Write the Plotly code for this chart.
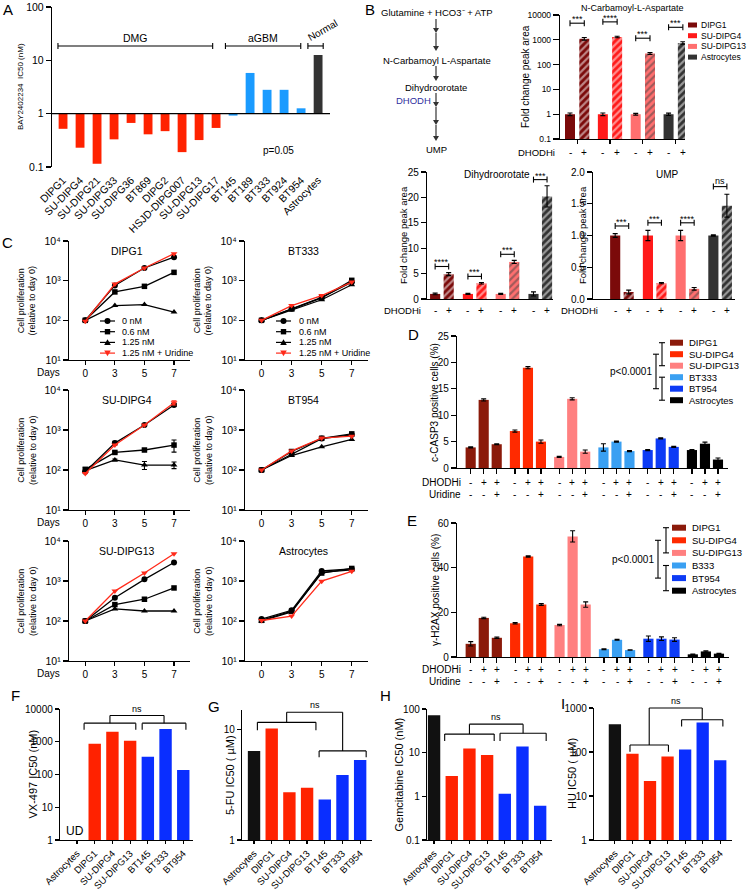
import math
import plotly.graph_objects as go

# ---------------- DATA ----------------
# Panel A
A_lines = ["DIPG1", "SU-DIPG4", "SU-DIPG21", "SU-DIPG33", "SU-DIPG36", "BT869", "DIPG2",
           "HSJD-DIPG007", "SU-DIPG13", "SU-DIPG17", "BT145", "BT189", "BT333", "BT924",
           "BT954", "Astrocytes"]
A_group = ["DMG"] * 10 + ["aGBM"] * 5 + ["Normal"]
A_ic50 = [0.52, 0.23, 0.115, 0.33, 0.67, 0.41, 0.47, 0.19, 0.32, 0.54,
          0.92, 5.8, 2.8, 2.8, 1.26, 12.6]

# Panel B
B_cells = ["DIPG1", "SU-DIPG4", "SU-DIPG13", "Astrocytes"]
B_treat = ["-", "+"]
B_ncla_ctrl = [1.0, 1.0, 1.0, 1.0]
B_ncla_ctrl_err = [0.12, 0.12, 0.08, 0.1]
B_ncla_dhodhi = [1100, 1300, 280, 750]
B_ncla_dhodhi_err = [130, 90, 25, 90]
B_ncla_sig = ["***", "****", "***", "***"]
B_dho_ctrl = [1.0, 1.0, 1.0, 1.0]
B_dho_ctrl_err = [0.15, 0.1, 0.1, 0.4]
B_dho_dhodhi = [4.9, 3.1, 7.3, 20.2]
B_dho_dhodhi_err = [0.3, 0.15, 0.3, 2.1]
B_dho_sig = ["****", "***", "***", "***"]
B_ump_ctrl = [1.0, 1.0, 1.0, 1.0]
B_ump_ctrl_err = [0.03, 0.08, 0.08, 0.01]
B_ump_dhodhi = [0.11, 0.25, 0.16, 1.47]
B_ump_dhodhi_err = [0.03, 0.01, 0.02, 0.18]
B_ump_sig = ["***", "***", "****", "ns"]

# Panel C  (rows: 0 nM, 0.6 nM, 1.25 nM, 1.25 nM + Uridine; columns: days)
C_days = ["0", "3", "5", "7"]
C_doses = ["0 nM", "0.6 nM", "1.25 nM", "1.25 nM + Uridine"]
C_yticks = ["10¹", "10²", "10³", "10⁴"]
C_DIPG1 = [[100, 760, 2090, 3900], [100, 520, 720, 1620], [100, 235, 250, 162], [95, 820, 2090, 4800]]
C_BT333 = [[100, 195, 380, 910], [100, 195, 370, 1020], [100, 185, 330, 790], [100, 235, 420, 920]]
C_SUDIPG4 = [[90, 470, 1330, 4200], [104, 275, 316, 420], [96, 178, 133, 133], [82, 420, 1330, 4800]]
C_SUDIPG4_err = [[0, 50, 60, 300], [10, 20, 20, 140], [5, 10, 30, 25], [0, 0, 0, 600]]
C_BT954 = [[100, 250, 610, 760], [100, 290, 620, 800], [100, 230, 380, 580], [100, 300, 630, 700]]
C_SUDIPG13 = [[100, 380, 1100, 2900], [100, 257, 350, 670], [100, 200, 178, 178], [100, 560, 1580, 4800]]
C_ASTRO = [[112, 185, 1780, 2000], [104, 176, 1580, 2060], [100, 168, 1650, 1900], [103, 133, 990, 1750]]

# Panels D / E
D_lines = ["DIPG1", "SU-DIPG4", "SU-DIPG13", "BT333", "BT954", "Astrocytes"]
E_lines = ["DIPG1", "SU-DIPG4", "SU-DIPG13", "B333", "BT954", "Astrocytes"]
DE_dhodhi = ["-", "+", "+"]
DE_uridine = ["-", "-", "+"]
D_casp3 = [[3.9, 12.9, 4.5], [7.0, 19.0, 5.0], [2.1, 13.1, 3.1], [3.9, 5.0, 3.2], [3.4, 5.6, 4.0], [3.4, 4.6, 1.6]]
D_casp3_err = [[0.1, 0.2, 0.1], [0.2, 0.2, 0.3], [0.1, 0.2, 0.3], [0.7, 0.1, 0.1], [0.1, 0.1, 0.1], [0.1, 0.3, 0.3]]
E_h2ax = [[5.9, 17.5, 8.6], [15.1, 45.0, 23.5], [14.3, 54.0, 23.5], [3.5, 7.7, 3.1], [8.2, 8.2, 7.8], [1.2, 2.5, 1.5]]
E_h2ax_err = [[1.0, 0.3, 0.3], [0.3, 0.3, 0.4], [0.3, 2.5, 1.2], [0.2, 0.2, 0.1], [1.2, 0.8, 0.8], [0.1, 0.3, 0.2]]

# Panels F - I
FI_lines = ["Astrocytes", "DIPG1", "SU-DIPG4", "SU-DIPG13", "BT145", "BT333", "BT954"]
F_vx497 = [None, 870, 2030, 1070, 350, 2450, 138]
G_5fu = [6.4, 10.2, 2.7, 2.97, 2.33, 3.87, 5.28]
H_gem = [71.5, 2.94, 12.5, 8.8, 1.14, 13.9, 0.61]
I_hu = [428, 91, 21.8, 79, 114, 468, 65]

# ---------------- STYLE ----------------
A_COLORS = {"DMG": "#FF2200", "aGBM": "#1A9BFF", "Normal": "#333333"}
B_COLORS = ["#7B0A0A", "#FF1A1A", "#FF6F6F", "#333333"]
DE_COLORS = ["#8B1A0A", "#FF2A00", "#FF8080", "#3AA0F2", "#0D3BF5", "#000000"]
FI_COLORS = ["#111111", "#FF2200", "#FF2200", "#FF2200", "#0A2EFF", "#0A2EFF", "#0A2EFF"]
C_SYMBOLS = ["circle", "square", "triangle-up", "triangle-down"]
C_LCOLORS = ["black", "black", "black", "#FF2A1A"]

W, H = 750, 891
FONT = "Arial, Liberation Sans, Helvetica, sans-serif"

fig = go.Figure()
LAY, ANN, SHP, AX = {}, [], [], {}


def PX(x):
    return x / W


def PY(y):
    return 1 - y / H


def tf(s, c="black"):
    return dict(size=s, color=c, family=FONT)


def axis_pair(n, box, xr, yr, ylog=False, xa=None, ya=None):
    x0, y0, x1, y1 = box
    AX[n] = dict(box=box, xr=xr, yr=yr, ylog=ylog)
    sfx = "" if n == 1 else str(n)
    base = dict(showline=True, linecolor="black", linewidth=1.2, ticks="outside", ticklen=4,
                tickwidth=1.2, tickcolor="black", showgrid=False, zeroline=False,
                tickfont=tf(10), fixedrange=True, automargin=False)
    xd = dict(base, domain=[PX(x0), PX(x1)], anchor="y" + sfx, range=list(xr))
    yd = dict(base, domain=[PY(y1), PY(y0)], anchor="x" + sfx, range=list(yr))
    if ylog:
        yd["type"] = "log"
    xd.update(xa or {})
    yd.update(ya or {})
    LAY["xaxis" + sfx] = xd
    LAY["yaxis" + sfx] = yd
    return "x" + sfx, "y" + sfx


def Xp(n, v):
    a = AX[n]
    x0, _, x1, _ = a["box"]
    r0, r1 = a["xr"]
    return x0 + (v - r0) / (r1 - r0) * (x1 - x0)


def Yp(n, v):
    a = AX[n]
    _, y0, _, y1 = a["box"]
    r0, r1 = a["yr"]
    if a["ylog"]:
        v = math.log10(v)
    return y1 - (v - r0) / (r1 - r0) * (y1 - y0)


def note(t, x, y, size=10, xanchor="center", yanchor="middle", angle=0, color="black"):
    ANN.append(dict(text=t, x=PX(x), y=PY(y), xref="paper", yref="paper", showarrow=False,
                    xanchor=xanchor, yanchor=yanchor, textangle=angle, font=tf(size, color)))


def pline(x0, y0, x1, y1, w=1.1, c="black"):
    SHP.append(dict(type="line", xref="paper", yref="paper", x0=PX(x0), y0=PY(y0),
                    x1=PX(x1), y1=PY(y1), line=dict(color=c, width=w)))


def prect(x0, y0, x1, y1, c):
    SHP.append(dict(type="rect", xref="paper", yref="paper", x0=PX(x0), y0=PY(y1),
                    x1=PX(x1), y1=PY(y0), line=dict(width=0), fillcolor=c))


def ppath(pts, c):
    path = "M " + " L ".join("{} {}".format(PX(a), PY(b)) for a, b in pts) + " Z"
    SHP.append(dict(type="path", xref="paper", yref="paper", path=path, fillcolor=c,
                    line=dict(width=0)))


def parrow(x, y0, y1, c="#333333"):
    pline(x, y0, x, y1 - 2, 1.2, c)
    ppath([(x - 3, y1 - 5), (x + 3, y1 - 5), (x, y1)], c)


def sig_bracket(n, xa_, xb_, yv, label, cap=3, size=9):
    yb = Yp(n, yv)
    x0, x1 = Xp(n, xa_), Xp(n, xb_)
    pline(x0, yb, x1, yb)
    pline(x0, yb - cap, x0, yb + cap)
    pline(x1, yb - cap, x1, yb + cap)
    note(label, (x0 + x1) / 2, yb - (6 if label == "ns" else 4), size)


def err(arr):
    return dict(type="data", array=arr, color="black", thickness=1.1, width=2.5)


# ---------------- PANEL A ----------------
xa1, ya1 = axis_pair(
    1, (52, 7, 330, 167), (-0.65, 15.7), (-1, 2), ylog=True,
    xa=dict(showline=False, tickvals=list(range(len(A_lines))), ticktext=A_lines, tickangle=-45,
            tickfont=tf(10.5), tickcolor="rgba(0,0,0,0)", ticklen=2),
    ya=dict(tickvals=[0.1, 1, 10, 100], ticktext=["0.1", "1", "10", "100"], ticklen=5, tickfont=tf(10.5)))
fig.add_trace(go.Bar(x=list(range(len(A_lines))), y=[v - 1 for v in A_ic50], base=1, width=0.52,
                     marker=dict(color=[A_COLORS[g] for g in A_group], line=dict(width=0)),
                     xaxis=xa1, yaxis=ya1, showlegend=False, hoverinfo="skip"))
y1px = Yp(1, 1)
pline(52, y1px, 330, y1px, 1.2)
A_spans = {"DMG": (-0.3, 8.8), "aGBM": (9.55, 13.98), "Normal": (14.4, 15.3)}
yb = Yp(1, 18.6)
for grp, (s, e) in A_spans.items():
    xs, xe = Xp(1, s), Xp(1, e)
    pline(xs, yb, xe, yb)
    pline(xs, yb - 3, xs, yb + 3)
    pline(xe, yb - 3, xe, yb + 3)
    if grp == "Normal":
        note(grp, (xs + xe) / 2 + 7, yb - 15, 10, angle=-30)
    else:
        note(grp, (xs + xe) / 2, yb - 8, 10.5)
note("p=0.05", 278, 150, 10)
note("BAY2402234  IC50 (nM)", 20, 87, 8, angle=-90)
note("A", 8, 10, 15)

# ---------------- PANEL B ----------------
note("B", 370, 10, 15)
note("Glutamine + HCO3⁻ + ATP", 437, 12, 9.5)
parrow(436, 19, 33)
parrow(436, 33, 51)
note("N-Carbamoyl L-Aspartate", 437, 60, 9.5)
parrow(436, 66, 81)
note("Dihydroorotate", 436, 87, 9.5)
note("DHODH", 413, 100, 9.5, color="#3030A0")
parrow(436, 93, 107)
parrow(436, 107, 125)
parrow(436, 125, 141)
note("UMP", 436, 149, 9.5)

hatch = dict(shape="/", fgcolor="black", fillmode="overlay", size=5, solidity=0.45)

# B top: N-Carbamoyl-L-Aspartate
xb2, yb2 = axis_pair(
    2, (560, 15, 685, 139), (-0.7, 8.05), (-1, 4), ylog=True,
    xa=dict(tickvals=[g * 2.3 + 0.5 for g in range(4)], showticklabels=False, ticklen=4),
    ya=dict(tickvals=[0.1, 1, 10, 100, 1000, 10000],
            ticktext=["0.1", "1", "10", "100", "1000", "10000"], ticklen=6, tickfont=tf(8.5)))
cx2 = [g * 2.3 for g in range(4)]
dx2 = [g * 2.3 + 1 for g in range(4)]
fig.add_trace(go.Bar(x=cx2, y=B_ncla_ctrl, error_y=err(B_ncla_ctrl_err), width=0.7,
                     marker=dict(color=B_COLORS, line=dict(width=0)), xaxis=xb2, yaxis=yb2,
                     showlegend=False, hoverinfo="skip"))
fig.add_trace(go.Bar(x=dx2, y=B_ncla_dhodhi, error_y=err(B_ncla_dhodhi_err), width=0.7,
                     marker=dict(color=B_COLORS, pattern=hatch, line=dict(width=0)), xaxis=xb2, yaxis=yb2,
                     showlegend=False, hoverinfo="skip"))
for g in range(4):
    sig_bracket(2, cx2[g], dx2[g], (B_ncla_dhodhi[g] + B_ncla_dhodhi_err[g]) * 3.8, B_ncla_sig[g])
    note(B_treat[0], Xp(2, cx2[g]), 152, 10)
    note(B_treat[1], Xp(2, dx2[g]), 152, 10)
note("DHODHi", 557, 152, 9.5, xanchor="right")
note("N-Carbamoyl-L-Aspartate", 632, 8, 9)
note("Fold change peak area", 526, 77, 10, angle=-90)
for i, (lab, c) in enumerate(zip(B_cells, B_COLORS)):
    y = 25 + i * 10.7
    prect(688, y - 2.5, 697, y + 2.5, c)
    note(lab, 699, y, 8.5, xanchor="left")

# B bottom-left: Dihydroorotate
xb3, yb3 = axis_pair(
    3, (427, 172, 553, 299), (-0.6, 8.7), (0, 25),
    xa=dict(showticklabels=False, ticks=""),
    ya=dict(tickvals=[0, 5, 10, 15, 20, 25], ticklen=5, tickfont=tf(10)))
cx3 = [g * 2.42 for g in range(4)]
dx3 = [g * 2.42 + 1 for g in range(4)]
fig.add_trace(go.Bar(x=cx3, y=B_dho_ctrl, error_y=err(B_dho_ctrl_err), width=0.75,
                     marker=dict(color=B_COLORS, line=dict(width=0)), xaxis=xb3, yaxis=yb3,
                     showlegend=False, hoverinfo="skip"))
fig.add_trace(go.Bar(x=dx3, y=B_dho_dhodhi, error_y=err(B_dho_dhodhi_err), width=0.75,
                     marker=dict(color=B_COLORS, pattern=hatch, line=dict(width=0)), xaxis=xb3, yaxis=yb3,
                     showlegend=False, hoverinfo="skip"))
for g in range(4):
    top = max(B_dho_ctrl[g] + B_dho_ctrl_err[g], B_dho_dhodhi[g] + B_dho_dhodhi_err[g])
    sig_bracket(3, cx3[g], dx3[g], top + 1.2, B_dho_sig[g])
    note(B_treat[0], Xp(3, cx3[g]), 310, 10)
    note(B_treat[1], Xp(3, dx3[g]), 310, 10)
note("DHODHi", 423, 310, 9.5, xanchor="right")
note("Dihydroorotate", 497, 174, 10)
note("Fold change peak area", 403, 235, 9.5, angle=-90)

# B bottom-right: UMP
xb4, yb4 = axis_pair(
    4, (593, 172, 735, 299), (-1.64, 8.86), (0, 2),
    xa=dict(showticklabels=False, ticks=""),
    ya=dict(tickvals=[0, 0.5, 1, 1.5, 2], ticktext=["0.0", "0.5", "1.0", "1.5", "2.0"],
            ticklen=5, tickfont=tf(10)))
cx4 = [g * 2.42 for g in range(4)]
dx4 = [g * 2.42 + 1 for g in range(4)]
fig.add_trace(go.Bar(x=cx4, y=B_ump_ctrl, error_y=err(B_ump_ctrl_err), width=0.75,
                     marker=dict(color=B_COLORS, line=dict(width=0)), xaxis=xb4, yaxis=yb4,
                     showlegend=False, hoverinfo="skip"))
fig.add_trace(go.Bar(x=dx4, y=B_ump_dhodhi, error_y=err(B_ump_dhodhi_err), width=0.75,
                     marker=dict(color=B_COLORS, pattern=hatch, line=dict(width=0)), xaxis=xb4, yaxis=yb4,
                     showlegend=False, hoverinfo="skip"))
for g in range(4):
    top = max(B_ump_ctrl[g] + B_ump_ctrl_err[g], B_ump_dhodhi[g] + B_ump_dhodhi_err[g])
    sig_bracket(4, cx4[g], dx4[g], top + 0.12, B_ump_sig[g])
    note(B_treat[0], Xp(4, cx4[g]), 310, 10)
    note(B_treat[1], Xp(4, dx4[g]), 310, 10)
note("DHODHi", 600, 310, 9.5, xanchor="right")
note("UMP", 667, 174, 10)
note("Fold change peak area", 582, 235, 9.5, angle=-90)

# ---------------- PANEL C ----------------
note("C", 7, 243, 15)
C_panels = [
    (5, "DIPG1", C_DIPG1, None, (69, 241, 190, 360)),
    (6, "BT333", C_BT333, None, (245, 241, 368, 360)),
    (7, "SU-DIPG4", C_SUDIPG4, C_SUDIPG4_err, (69, 390, 190, 510)),
    (8, "BT954", C_BT954, None, (245, 390, 368, 510)),
    (9, "SU-DIPG13", C_SUDIPG13, None, (69, 541, 190, 661)),
    (10, "Astrocytes", C_ASTRO, None, (245, 541, 368, 661)),
]
for n, title, series, serr, box in C_panels:
    xr_, yr_ = axis_pair(
        n, box, (-0.55, 3.54), (1, 4), ylog=True,
        xa=dict(tickvals=[0, 1, 2, 3], ticktext=C_days, tickfont=tf(10)),
        ya=dict(tickvals=[10, 100, 1000, 10000], ticktext=C_yticks, tickfont=tf(10.5), ticklen=5))
    for k, (dose, sym, col) in enumerate(zip(C_doses, C_SYMBOLS, C_LCOLORS)):
        ey = dict(type="data", array=serr[k], color=col, thickness=1.1, width=2.5) if serr else None
        fig.add_trace(go.Scatter(x=[0, 1, 2, 3], y=series[k], mode="lines+markers", name=dose,
                                 line=dict(color=col, width=1.3), error_y=ey,
                                 marker=dict(symbol=sym, size=6 if sym != "square" else 5.5, color=col),
                                 xaxis=xr_, yaxis=yr_, showlegend=False, hoverinfo="skip"))
    x0, y0, x1, y1 = box
    note(title, x0 + 58, y0 + 10, 10.5)
    note("Cell proliferation<br>(relative to day 0)", x0 - 42, (y0 + y1) / 2, 9, angle=-90)
    if x0 < 100:
        note("Days", 48, y1 + 12, 10)


def c_legend(xl0, xl1, xt, y0):
    for i, (name, sym, col) in enumerate(zip(C_doses, C_SYMBOLS, C_LCOLORS)):
        y = y0 + i * 10.7
        pline(xl0, y, xl1, y, 1.2, col)
        xm = (xl0 + xl1) / 2
        if sym == "circle":
            SHP.append(dict(type="circle", xref="paper", yref="paper", x0=PX(xm - 3), x1=PX(xm + 3),
                            y0=PY(y + 3), y1=PY(y - 3), fillcolor=col, line=dict(width=0)))
        elif sym == "square":
            prect(xm - 2.7, y - 2.7, xm + 2.7, y + 2.7, col)
        else:
            d = 1 if sym == "triangle-up" else -1
            ppath([(xm - 3.3, y + 2.6 * d), (xm + 3.3, y + 2.6 * d), (xm, y - 3.2 * d)], col)
        note(name, xt, y, 9, xanchor="left")


c_legend(100, 115, 120, 321)
c_legend(276, 291, 297, 321)

# ---------------- PANELS D / E ----------------
DE_x = [g * 3.4 + i for g in range(6) for i in range(3)]


def de_panel(n, box, yr, ytv, vals, errs, labels, ytitle, letter, letter_xy, row_y, leg_y0, leg_dy,
             xs_small, xs_big, sw0, sw1, xt):
    xr_, yr__ = axis_pair(
        n, box, (-1.05, 19.77), yr,
        xa=dict(tickvals=DE_x, showticklabels=False, ticklen=5),
        ya=dict(tickvals=ytv, ticklen=5, tickfont=tf(10)))
    flat = [v for grp in vals for v in grp]
    flat_e = [v for grp in errs for v in grp]
    cols = [DE_COLORS[g] for g in range(6) for _ in range(3)]
    fig.add_trace(go.Bar(x=DE_x, y=flat, error_y=err(flat_e), width=0.78,
                         marker=dict(color=cols, line=dict(width=0)), xaxis=xr_, yaxis=yr__,
                         showlegend=False, hoverinfo="skip"))
    for i, x in enumerate(DE_x):
        note(DE_dhodhi[i % 3], Xp(n, x), row_y, 10)
        note(DE_uridine[i % 3], Xp(n, x), row_y + 12, 10)
    note("DHODHi", 463, row_y, 10, xanchor="right")
    note("Uridine", 463, row_y + 12, 10, xanchor="right")
    x0, y0, x1, y1 = box
    note(ytitle, 435, (y0 + y1) / 2, 10, angle=-90)
    note(letter, letter_xy[0], letter_xy[1], 15)
    for i, (lab, c) in enumerate(zip(labels, DE_COLORS)):
        y = leg_y0 + i * leg_dy
        prect(sw0, y - 3, sw1, y + 3, c)
        note(lab, xt, y, 9.5, xanchor="left")
    ya0, ya1 = leg_y0, leg_y0 + 2 * leg_dy
    yb0, yb1 = leg_y0 + 3 * leg_dy, leg_y0 + 5 * leg_dy
    for a, b in [(ya0, ya1), (yb0, yb1)]:
        pline(xs_small, a, xs_small, b)
        pline(xs_small - 3, a, xs_small + 3, a)
        pline(xs_small - 3, b, xs_small + 3, b)
    ma, mb = (ya0 + ya1) / 2, (yb0 + yb1) / 2
    pline(xs_big, ma, xs_big, mb)
    pline(xs_big - 3, ma, xs_big + 3, ma)
    pline(xs_big - 3, mb, xs_big + 3, mb)
    note("p&lt;0.0001", xs_big - 2, (ma + mb) / 2, 10, xanchor="right")


de_panel(11, (457, 336, 728, 468), (0, 25), [0, 5, 10, 15, 20, 25], D_casp3, D_casp3_err, D_lines,
         "c-CASP3 positive cells (%)", "D", (413, 335), 482, 342.7, 11.5, 662, 656, 670, 683, 687)
de_panel(12, (457, 523, 729, 657), (0, 60), [0, 20, 40, 60], E_h2ax, E_h2ax_err, E_lines,
         "γ-H2AX positive cells (%)", "E", (412, 520), 669, 527.7, 12.6, 666, 658, 672, 686, 690)

# ---------------- PANELS F - I ----------------
FI_panels = [
    (13, (60, 709, 193, 840), (-0.96, 6.55), (0, 4), F_vx497, [1, 10, 100, 1000, 10000],
     "VX-497 IC50 (nM)", 32, "F", (15, 695),
     ((0.4, 3.32), 3700, 2330, (3.68, 6.15), 3700, 2330, 6330)),
    (14, (242, 710, 372, 840), (-0.68, 6.67), (0, math.log10(15)), G_5fu, [1, 10],
     "5-FU IC50 ( µM)", 230, "G", (214, 706),
     ((0.19, 3.5), 11.6, 9.86, (3.68, 6.34), 6.4, 5.6, 14.3)),
    (15, (427, 709, 552, 840), (-0.4, 6.67), (-1, 2), H_gem, [0.1, 1, 10, 100],
     "Gemcitabine IC50 (nM)", 398, "H", (385, 695),
     ((0.6, 3.4), 26.6, 18.6, (3.73, 6.34), 27.9, 18.6, 45)),
    (16, (594, 708, 732, 840), (-1.19, 6.67), (0, 3), I_hu, [1, 10, 100, 1000],
     "HU IC50 ( µM)", 572, "I", (563, 703),
     ((0.86, 3.05), 144, 101, (3.8, 6.15), 540, 380, 1000)),
]
for n, box, xr, yr, vals, ytv, ytitle, ytx, letter, lxy, br in FI_panels:
    xr_, yr_ = axis_pair(
        n, box, xr, yr, ylog=True,
        xa=dict(tickvals=list(range(len(FI_lines))), ticktext=FI_lines, tickangle=-45,
                tickfont=tf(9.5), ticklen=3),
        ya=dict(tickvals=ytv, ticktext=[("%g" % v) for v in ytv], ticklen=4, tickfont=tf(10)))
    xs = [i for i, v in enumerate(vals) if v is not None]
    fig.add_trace(go.Bar(x=xs, y=[vals[i] for i in xs], width=0.7,
                         marker=dict(color=[FI_COLORS[i] for i in xs], line=dict(width=0)),
                         xaxis=xr_, yaxis=yr_, showlegend=False, hoverinfo="skip"))
    x0, y0, x1, y1 = box
    note(ytitle, ytx, (y0 + y1) / 2, 11, angle=-90)
    note(letter, lxy[0], lxy[1], 15)
    (ls, le), ly, lc, (rs, re_), ry, rc, ty = br
    for s, e, yv, cv in [(ls, le, ly, lc), (rs, re_, ry, rc)]:
        pline(Xp(n, s), Yp(n, yv), Xp(n, e), Yp(n, yv))
        pline(Xp(n, s), Yp(n, yv), Xp(n, s), Yp(n, cv))
        pline(Xp(n, e), Yp(n, yv), Xp(n, e), Yp(n, cv))
    lm, rm = (ls + le) / 2, (rs + re_) / 2
    pline(Xp(n, lm), Yp(n, ly), Xp(n, lm), Yp(n, ty))
    pline(Xp(n, rm), Yp(n, ry), Xp(n, rm), Yp(n, ty))
    pline(Xp(n, lm), Yp(n, ty), Xp(n, rm), Yp(n, ty))
    note("ns", (Xp(n, lm) + Xp(n, rm)) / 2, Yp(n, ty) - 7, 9)
note("UD", 75, 831, 12)

fig.update_layout(template="none", width=W, height=H, autosize=False,
                  margin=dict(l=0, r=0, t=0, b=0, pad=0, autoexpand=False),
                  paper_bgcolor="white", plot_bgcolor="rgba(0,0,0,0)", barmode="overlay",
                  showlegend=False, font=tf(10), annotations=ANN, shapes=SHP, **LAY)
fig.write_html("out.html", config={"displayModeBar": False, "staticPlot": True},
               post_script="document.body.style.margin='0px';document.body.style.overflow='hidden';")
